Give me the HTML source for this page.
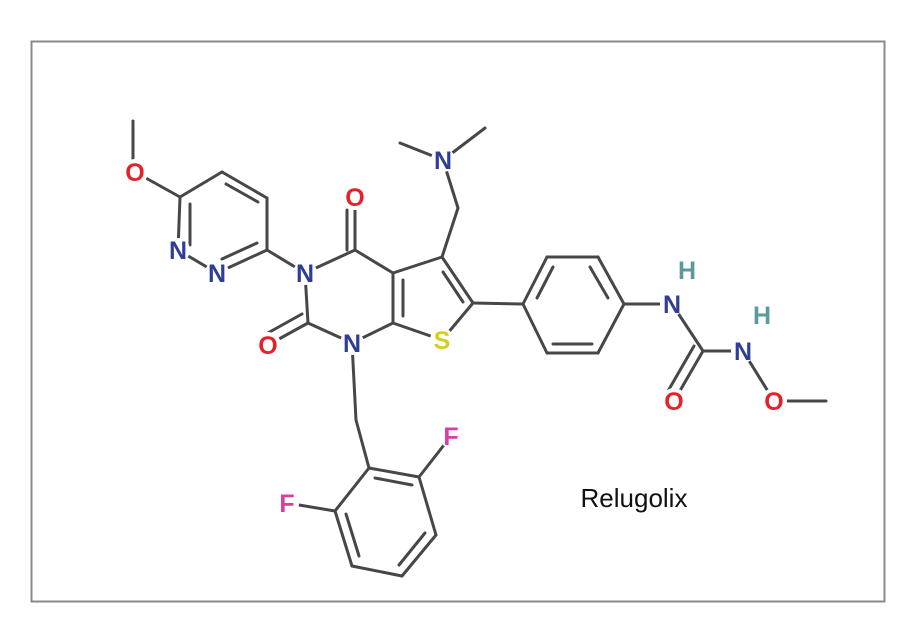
<!DOCTYPE html>
<html><head><style>html,body{margin:0;padding:0;background:#fff;}</style></head>
<body>
<svg width="924" height="637" xmlns="http://www.w3.org/2000/svg">
<rect x="31.5" y="41.5" width="853" height="560" fill="#fff" stroke="#8a8a8a" stroke-width="2"/>
<g stroke="#474747" stroke-width="3" stroke-linecap="round" fill="none">
<line x1="133" y1="121" x2="133" y2="170"/>
<line x1="135" y1="172" x2="180" y2="197"/>
<line x1="180" y1="197" x2="222" y2="172"/>
<line x1="222" y1="172" x2="267" y2="198"/>
<line x1="226" y1="184" x2="258" y2="202"/>
<line x1="267" y1="198" x2="267" y2="250"/>
<line x1="267" y1="250" x2="217" y2="273"/>
<line x1="257" y1="243" x2="222" y2="259"/>
<line x1="217" y1="273" x2="178" y2="250"/>
<line x1="178" y1="250" x2="180" y2="197"/>
<line x1="190" y1="245" x2="190" y2="204"/>
<line x1="267" y1="250" x2="305" y2="273"/>
<line x1="305" y1="273" x2="355" y2="250"/>
<line x1="355" y1="250" x2="355" y2="197"/>
<line x1="347" y1="250" x2="347" y2="210"/>
<line x1="355" y1="250" x2="393" y2="273"/>
<line x1="393" y1="273" x2="393" y2="323"/>
<line x1="403" y1="280" x2="403" y2="316"/>
<line x1="393" y1="323" x2="352" y2="343"/>
<line x1="352" y1="343" x2="308" y2="323"/>
<line x1="308" y1="323" x2="305" y2="273"/>
<line x1="308" y1="323" x2="268" y2="345"/>
<line x1="302" y1="314" x2="266" y2="334"/>
<line x1="393" y1="273" x2="442" y2="257"/>
<line x1="442" y1="257" x2="473" y2="303"/>
<line x1="443" y1="272" x2="463" y2="302"/>
<line x1="473" y1="303" x2="442" y2="340"/>
<line x1="442" y1="340" x2="393" y2="323"/>
<line x1="442" y1="257" x2="458" y2="208"/>
<line x1="458" y1="208" x2="443" y2="160"/>
<line x1="443" y1="160" x2="400" y2="143"/>
<line x1="443" y1="160" x2="485" y2="128"/>
<line x1="473" y1="303" x2="523" y2="304"/>
<line x1="523" y1="304" x2="547" y2="257"/>
<line x1="547" y1="257" x2="598" y2="257"/>
<line x1="598" y1="257" x2="624" y2="304"/>
<line x1="624" y1="304" x2="598" y2="353"/>
<line x1="598" y1="353" x2="547" y2="353"/>
<line x1="547" y1="353" x2="523" y2="304"/>
<line x1="553" y1="267" x2="537" y2="298"/>
<line x1="590" y1="267" x2="608" y2="298"/>
<line x1="553" y1="344" x2="592" y2="344"/>
<line x1="624" y1="304" x2="672" y2="304"/>
<line x1="672" y1="304" x2="703" y2="351"/>
<line x1="703" y1="351" x2="743" y2="351"/>
<line x1="703" y1="351" x2="674" y2="401"/>
<line x1="694" y1="346" x2="668" y2="391"/>
<line x1="743" y1="351" x2="774" y2="401"/>
<line x1="774" y1="401" x2="826" y2="401"/>
<line x1="352" y1="343" x2="356" y2="420"/>
<line x1="356" y1="420" x2="369" y2="468"/>
<line x1="369" y1="468" x2="419" y2="477"/>
<line x1="375" y1="478" x2="412" y2="485"/>
<line x1="419" y1="477" x2="451" y2="436"/>
<line x1="419" y1="477" x2="436" y2="535"/>
<line x1="436" y1="535" x2="402" y2="576"/>
<line x1="425" y1="533" x2="399" y2="565"/>
<line x1="402" y1="576" x2="352" y2="566"/>
<line x1="352" y1="566" x2="335" y2="511"/>
<line x1="359" y1="556" x2="346" y2="514"/>
<line x1="335" y1="511" x2="369" y2="468"/>
<line x1="335" y1="511" x2="287" y2="503"/>
</g>
<g font-family="Liberation Sans, sans-serif" font-weight="bold" font-size="25" text-anchor="middle" dominant-baseline="central">
<g fill="#fff">
<circle cx="135" cy="172" r="13"/><circle cx="178" cy="250" r="12"/><circle cx="217" cy="273" r="12"/>
<circle cx="305" cy="273" r="12"/><circle cx="355" cy="197" r="13"/><circle cx="268" cy="345" r="13"/>
<circle cx="352" cy="343" r="12"/><circle cx="442" cy="340" r="12"/><circle cx="443" cy="160" r="12"/>
<circle cx="672" cy="304" r="12"/><circle cx="743" cy="351" r="12"/><circle cx="674" cy="401" r="13"/>
<circle cx="774" cy="401" r="13"/><circle cx="451" cy="436" r="12"/><circle cx="287" cy="503" r="12"/>
</g>
<text x="135" y="173" fill="#e8202a">O</text>
<text x="178" y="251" fill="#2e3d96">N</text>
<text x="217" y="274" fill="#2e3d96">N</text>
<text x="305" y="274" fill="#2e3d96">N</text>
<text x="355" y="198" fill="#e8202a">O</text>
<text x="268" y="346" fill="#e8202a">O</text>
<text x="352" y="344" fill="#2e3d96">N</text>
<text x="442" y="341" fill="#d4cf1f">S</text>
<text x="443" y="161" fill="#2e3d96">N</text>
<text x="672" y="305" fill="#2e3d96">N</text>
<text x="687" y="271" fill="#5b9a9a">H</text>
<text x="743" y="352" fill="#2e3d96">N</text>
<text x="762" y="316" fill="#5b9a9a">H</text>
<text x="674" y="402" fill="#e8202a">O</text>
<text x="774" y="402" fill="#e8202a">O</text>
<text x="451" y="437" fill="#d63fa0">F</text>
<text x="287" y="504" fill="#d63fa0">F</text>
</g>
<text x="634" y="507" font-family="Liberation Sans, sans-serif" font-size="26" fill="#111" text-anchor="middle">Relugolix</text>
</svg>
</body></html>
